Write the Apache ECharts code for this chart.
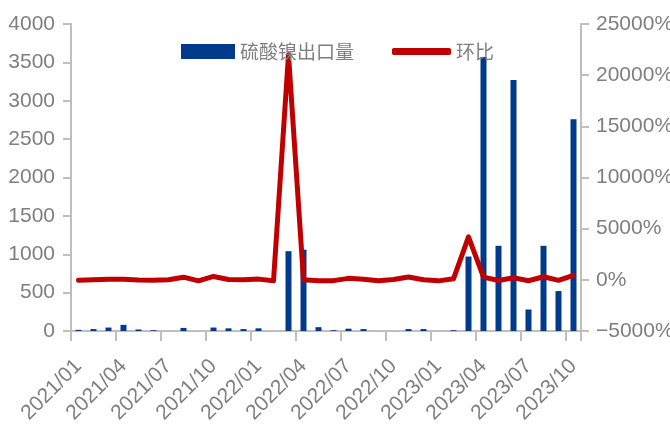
<!DOCTYPE html>
<html>
<head>
<meta charset="utf-8">
<script src="https://cdn.jsdelivr.net/npm/echarts@6/dist/echarts.min.js"></script>
<style>
  html, body { margin: 0; padding: 0; background: #fff; }
  #chart { width: 670px; height: 425px; }
</style>
</head>
<body>
<div id="chart"></div>
<script>
// Monthly export volume of nickel sulphate and its month-on-month change
const months = [
  '2021/01','2021/02','2021/03','2021/04','2021/05','2021/06','2021/07','2021/08','2021/09','2021/10','2021/11','2021/12',
  '2022/01','2022/02','2022/03','2022/04','2022/05','2022/06','2022/07','2022/08','2022/09','2022/10','2022/11','2022/12',
  '2023/01','2023/02','2023/03','2023/04','2023/05','2023/06','2023/07','2023/08','2023/09','2023/10'
];
const exportVolume = [
  15, 25, 45, 80, 20, 10, 0, 40, 0, 45, 35, 25,
  35, 0, 1040, 1060, 50, 10, 30, 25, 0, 0, 25, 25,
  0, 10, 970, 3570, 1110, 3270, 280, 1110, 520, 2760
];
const momChange = [
  -50, 0, 50, 60, -20, -30, 0, 260, -100, 330, 30, 0,
  70, -100, 22000, 0, -95, -80, 145, 50, -100, 30, 270, 0,
  -100, 100, 4200, 270, -70, 200, -90, 300, -50, 430
];
const leftTicks = { min: 0, max: 4000, step: 500 };
const rightTicks = { min: -5000, max: 25000, step: 5000 };

const gray = '#7f7f7f';
const axisGray = '#bfbfbf';
const latin = '"Liberation Sans", Arial, sans-serif';
const cjk = '"Noto Sans CJK SC", sans-serif';

const chart = echarts.init(document.getElementById('chart'), null, { renderer: 'canvas' });
chart.setOption({
  animation: false,
  backgroundColor: '#ffffff',
  grid: {
    left: 71, right: 89, top: 24, bottom: 94,
    containLabel: false, outerBoundsMode: 'none'
  },
  legend: [
    {
      data: [{ name: '硫酸镍出口量', icon: 'rect' }],
      left: 176, top: 37,
      itemWidth: 54, itemHeight: 15, itemGap: 8,
      textStyle: { color: gray, fontSize: 19, fontFamily: cjk }
    },
    {
      data: [{ name: '环比', icon: 'roundRect' }],
      left: 387, top: 37,
      itemWidth: 59, itemHeight: 7, itemGap: 6,
      textStyle: { color: gray, fontSize: 19, fontFamily: cjk }
    }
  ],
  xAxis: {
    type: 'category',
    data: months,
    boundaryGap: true,
    axisLine: { lineStyle: { color: axisGray, width: 2 } },
    axisTick: { show: true, interval: 2, length: 10, lineStyle: { color: axisGray, width: 2 } },
    axisLabel: {
      interval: 2, rotate: 45, margin: 32,
      color: gray, fontSize: 21, fontFamily: latin
    },
    splitLine: { show: false }
  },
  yAxis: [
    {
      type: 'value',
      min: leftTicks.min, max: leftTicks.max, interval: leftTicks.step,
      axisLine: { show: true, lineStyle: { color: axisGray, width: 2 } },
      axisTick: { show: true, length: 8, lineStyle: { color: axisGray, width: 2 } },
      axisLabel: {
        color: gray, fontSize: 21, fontFamily: latin, margin: 16,
        formatter: v => String(v)
      },
      splitLine: { show: false }
    },
    {
      type: 'value',
      min: rightTicks.min, max: rightTicks.max, interval: rightTicks.step,
      axisLine: { show: true, lineStyle: { color: axisGray, width: 2 } },
      axisTick: { show: true, length: 8, lineStyle: { color: axisGray, width: 2 } },
      axisLabel: {
        color: gray, fontSize: 21, fontFamily: latin, margin: 15,
        formatter: v => String(v).replace('-', '\u2212') + '%'
      },
      splitLine: { show: false }
    }
  ],
  series: [
    {
      name: '硫酸镍出口量',
      type: 'bar',
      yAxisIndex: 0,
      data: exportVolume,
      barWidth: 6,
      itemStyle: { color: '#003a8c' },
      z: 2
    },
    {
      name: '环比',
      type: 'line',
      yAxisIndex: 1,
      data: momChange,
      symbol: 'none',
      lineStyle: { color: '#c00000', width: 5, cap: 'round', join: 'round' },
      itemStyle: { color: '#c00000' },
      z: 3
    }
  ]
});
</script>
</body>
</html>
